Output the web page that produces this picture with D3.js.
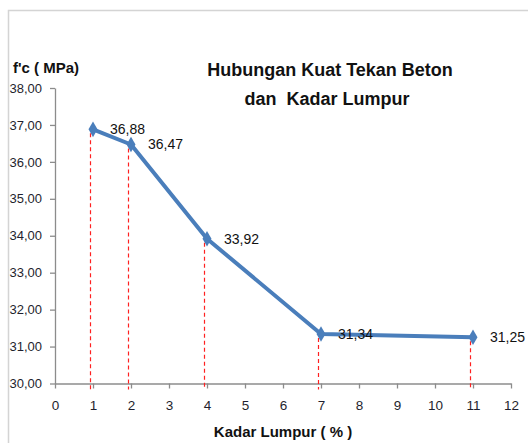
<!DOCTYPE html>
<html>
<head>
<meta charset="utf-8">
<script src="https://cdn.jsdelivr.net/npm/d3@7"></script>
<style>
  body { margin: 0; background: #fff; }
  svg { display: block; font-family: "Liberation Sans", Arial, sans-serif; }
</style>
</head>
<body>
<svg id="chart" width="528" height="443"></svg>
<script>
// data
var kadar = [1, 2, 4, 7, 11];
var kuatTekan = [36.88, 36.47, 33.92, 31.34, 31.25];
var labels = ["36,88", "36,47", "33,92", "31,34", "31,25"];
var xTicks = [0, 1, 2, 3, 4, 5, 6, 7, 8, 9, 10, 11, 12];
var yTicks = [30, 31, 32, 33, 34, 35, 36, 37, 38];

var svg = d3.select("#chart");
var margin = {left: 55, top: 88, right: 17, bottom: 60};

// chart frame
svg.append("path")
    .attr("d", "M8.5,443V10.5H528")
    .attr("fill", "none")
    .attr("stroke", "#d4d4d4")
    .attr("stroke-width", 1.5);

var g = svg.append("g").attr("transform", "translate(" + margin.left + "," + margin.top + ")");

var x = d3.scaleLinear().domain([0, 12]).range([0, 456]);
var y = d3.scaleLinear().domain([30, 38]).range([295.5, 0]);

var fmt = function(d) { return d3.format(".2f")(d).replace(".", ","); };

var xAxis = g.append("g")
    .attr("transform", "translate(0," + y(30) + ")")
    .call(d3.axisBottom(x).tickValues(xTicks).tickSize(5).tickSizeOuter(0).tickPadding(12));
var yAxis = g.append("g")
    .call(d3.axisLeft(y).tickValues(yTicks).tickFormat(fmt).tickSize(5).tickSizeOuter(0).tickPadding(8));

[xAxis, yAxis].forEach(function(a) {
  a.selectAll("path, line").attr("stroke", "#8c8c8c").attr("stroke-width", 1.3);
  a.selectAll("text").attr("fill", "#1f1f2e").attr("font-size", 13)
      .attr("font-family", "'Liberation Sans', Arial, sans-serif");
});
xAxis.selectAll("text").attr("font-size", 13.5);

var pts = kadar.map(function(d, i) { return {x: d, y: kuatTekan[i], label: labels[i]}; });

// red dashed drop lines
g.selectAll(".drop")
    .data(pts)
    .enter().append("line")
    .attr("class", "drop")
    .attr("x1", function(d) { return x(d.x) - 2.5; })
    .attr("x2", function(d) { return x(d.x) - 2.5; })
    .attr("y1", function(d) { return y(d.y) + 4; })
    .attr("y2", y(30) + 6)
    .attr("stroke", "#ff2020")
    .attr("stroke-width", 1.2)
    .attr("stroke-dasharray", "4,3");

var line = d3.line()
    .x(function(d) { return x(d.x); })
    .y(function(d) { return y(d.y); });

g.append("path")
    .datum(pts)
    .attr("d", line)
    .attr("fill", "none")
    .attr("stroke", "#4a7ebb")
    .attr("stroke-width", 4)
    .attr("stroke-linejoin", "round");

g.selectAll(".mark")
    .data(pts)
    .enter().append("path")
    .attr("class", "mark")
    .attr("d", d3.symbol().type(d3.symbolDiamond).size(70))
    .attr("transform", function(d) { return "translate(" + x(d.x) + "," + y(d.y) + ")"; })
    .attr("fill", "#4a7ebb");

g.selectAll(".lbl")
    .data(pts)
    .enter().append("text")
    .attr("class", "lbl")
    .attr("x", function(d) { return x(d.x) + 17; })
    .attr("y", function(d) { return y(d.y); })
    .attr("dy", "0.35em")
    .attr("font-size", 14)
    .attr("fill", "#111")
    .text(function(d) { return d.label; });

// titles
svg.append("text")
    .attr("x", 330).attr("y", 76)
    .attr("text-anchor", "middle")
    .attr("font-size", 18).attr("font-weight", "bold").attr("fill", "#111")
    .text("Hubungan Kuat Tekan Beton");
svg.append("text")
    .attr("x", 327).attr("y", 105)
    .attr("text-anchor", "middle")
    .attr("font-size", 18).attr("font-weight", "bold").attr("fill", "#111")
    .style("white-space", "pre")
    .text("dan  Kadar Lumpur");

svg.append("text")
    .attr("x", 13).attr("y", 73)
    .attr("font-size", 15).attr("font-weight", "bold").attr("fill", "#111")
    .text("f'c ( MPa)");

svg.append("text")
    .attr("x", 283).attr("y", 437)
    .attr("text-anchor", "middle")
    .attr("font-size", 15).attr("font-weight", "bold").attr("fill", "#111")
    .text("Kadar Lumpur ( % )");
</script>
</body>
</html>
